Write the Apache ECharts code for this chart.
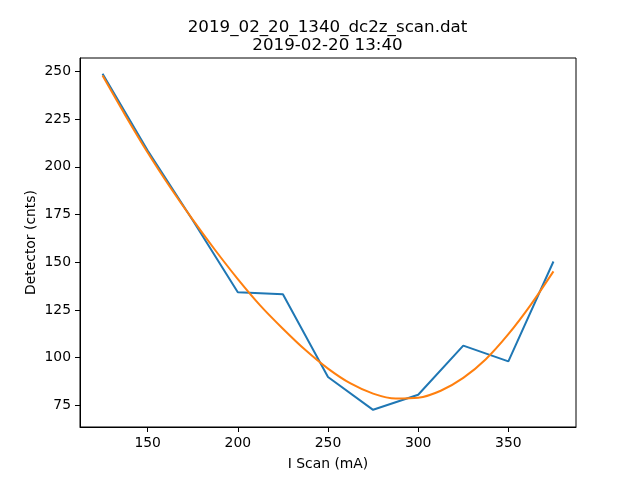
<!DOCTYPE html>
<html>
<head>
<meta charset="utf-8">
<script src="https://cdn.jsdelivr.net/npm/echarts@6/dist/echarts.min.js"></script>
<style>html,body{margin:0;padding:0;background:#fff}#c{width:640px;height:480px}</style>
</head>
<body>
<div id="c"></div>
<script>
var scanX = [125, 150, 175, 200, 225, 250, 275, 300, 325, 350, 375];
var detector = [248.8, 208.5, 172.0, 134.3, 133.2, 89.9, 72.7, 80.6, 106.3, 98.1, 150.4];
var fitX = [125, 137.5, 150, 162.5, 175, 187.5, 200, 212.5, 225, 237.5, 250, 262.5, 275, 287.5, 300, 312.5, 325, 337.5, 350, 362.5, 375];
var fitY = [247.8, 227.2, 207.5, 189.3, 172.3, 156.3, 141.2, 127.3, 115.2, 104.0, 94.3, 86.5, 81.2, 78.6, 79.0, 82.7, 89.4, 99.2, 112.3, 127.8, 145.2];
var xTicks = [150, 200, 250, 300, 350];
var yTicks = [75, 100, 125, 150, 175, 200, 225, 250];
var titleText = '2019_02_20_1340_dc2z_scan.dat\n2019-02-20 13:40';

function pairs(xs, ys) { return xs.map(function (x, i) { return [x, ys[i]]; }); }

var font = 'DejaVu Sans';
var chart = echarts.init(document.getElementById('c'), null, {renderer: 'canvas'});
chart.setOption({
  animation: false,
  backgroundColor: '#fff',
  title: {
    text: titleText,
    left: 322.5,
    top: 14,
    textAlign: 'center',
    textStyle: {fontFamily: font, fontSize: 16.7, fontWeight: 'normal', color: '#000', lineHeight: 17.5}
  },
  grid: {left: 80, top: 58, width: 496, height: 369, show: true, borderColor: '#000', borderWidth: 1, containLabel: false},
  xAxis: {
    type: 'value', min: 112.5, max: 387.5,
    name: 'I Scan (mA)', nameLocation: 'middle', nameGap: 30, nameMoveOverlap: false,
    nameTextStyle: {fontFamily: font, fontSize: 13.9, color: '#000'},
    axisLine: {show: true, onZero: false, lineStyle: {color: '#000', width: 1}},
    axisTick: {show: true, length: 5, inside: false, customValues: xTicks, lineStyle: {color: '#000', width: 1}},
    axisLabel: {customValues: xTicks, fontFamily: font, fontSize: 13.9, color: '#000', margin: 9},
    splitLine: {show: false}
  },
  yAxis: {
    type: 'value', min: 63.7, max: 257.0,
    name: 'Detector (cnts)', nameLocation: 'middle', nameGap: 42, nameRotate: 90, nameMoveOverlap: false,
    nameTextStyle: {fontFamily: font, fontSize: 13.9, color: '#000'},
    axisLine: {show: true, onZero: false, lineStyle: {color: '#000', width: 1}},
    axisTick: {show: true, length: 5, inside: false, customValues: yTicks, lineStyle: {color: '#000', width: 1}},
    axisLabel: {customValues: yTicks, fontFamily: font, fontSize: 13.9, color: '#000', margin: 9},
    splitLine: {show: false}
  },
  series: [
    {type: 'line', data: pairs(scanX, detector), showSymbol: false, symbol: 'none',
     lineStyle: {color: '#1f77b4', width: 2}, itemStyle: {color: '#1f77b4'}},
    {type: 'line', data: pairs(fitX, fitY), showSymbol: false, symbol: 'none', smooth: 0.3,
     lineStyle: {color: '#ff7f0e', width: 2}, itemStyle: {color: '#ff7f0e'}}
  ]
});
</script>
</body>
</html>
